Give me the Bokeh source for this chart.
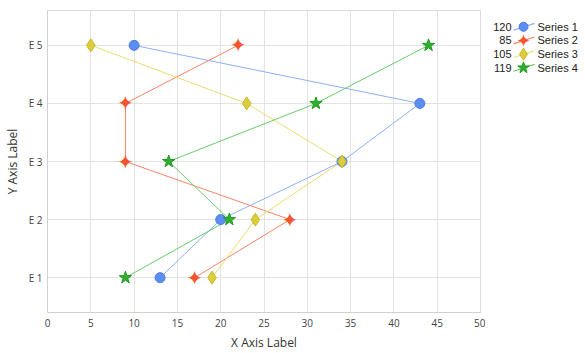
from bokeh.plotting import figure
from bokeh.models import Range1d, FixedTicker, ColumnDataSource
from bokeh.layouts import row
from bokeh.core.properties import value
from bokeh.embed import file_html
from bokeh.resources import INLINE

# ---- data ----
y_labels = ["E 1", "E 2", "E 3", "E 4", "E 5"]
y_pos = [1, 2, 3, 4, 5]
series_names = ["Series 1", "Series 2", "Series 3", "Series 4"]
s1_x = [13, 20, 34, 43, 10]
s2_x = [17, 28, 9, 9, 22]
s3_x = [19, 24, 34, 23, 5]
s4_x = [9, 21, 14, 31, 44]
x_ticks = [0, 5, 10, 15, 20, 25, 30, 35, 40, 45, 50]

marker_colors = ["#5b8ef0", "#f5542c", "#dccd3a", "#2eb02e"]
line_colors = ["#8db0f6", "#fa8466", "#e9dd72", "#6acb6a"]
edge_colors = ["#4a7de0", "#e04520", "#c8b82a", "#209a20"]
all_x = [s1_x, s2_x, s3_x, s4_x]

FONT = "Open Sans"

p = figure(width=485, height=353, output_backend="svg", toolbar_location=None,
           x_range=Range1d(0, 50), y_range=Range1d(0.4, 5.6),
           min_border_left=47, min_border_right=5, min_border_top=10, min_border_bottom=41)
p.outline_line_color = "#dcdcdc"
p.background_fill_color = "white"
p.border_fill_color = "white"

p.xaxis.ticker = FixedTicker(ticks=x_ticks)
p.yaxis.ticker = FixedTicker(ticks=y_pos)
p.yaxis.major_label_overrides = {v: l for v, l in zip(y_pos, y_labels)}
for ax in (p.xaxis, p.yaxis):
    ax.major_tick_line_color = None
    ax.minor_tick_line_color = None
    ax.major_tick_out = 0
    ax.major_tick_in = 0
    ax.minor_tick_out = 0
    ax.minor_tick_in = 0
    ax.axis_line_color = "#d0d0d0"
    ax.major_label_text_font = FONT
    ax.major_label_text_font_size = "10px"
    ax.major_label_text_color = "#444444"
    ax.axis_label_text_font = FONT
    ax.axis_label_text_font_size = "12px"
    ax.axis_label_text_font_style = "normal"
    ax.axis_label_text_color = "#333333"
p.xaxis.axis_label = "X Axis Label"
p.yaxis.axis_label = "Y Axis Label"
p.xaxis.major_label_standoff = 6
p.yaxis.major_label_standoff = 5
p.xaxis.axis_label_standoff = 4
p.yaxis.axis_label_standoff = 5
p.xgrid.ticker = FixedTicker(ticks=x_ticks)
p.ygrid.ticker = FixedTicker(ticks=y_pos)
p.grid.grid_line_color = "#e3e3e3"

for i, xs in enumerate(all_x):
    src = ColumnDataSource(dict(x=xs, y=y_pos))
    p.line("x", "y", source=src, line_color=line_colors[i], line_width=1)

# markers
p.scatter(s1_x, y_pos, marker="circle", size=10, fill_color=marker_colors[0], line_color=edge_colors[0])
p.text(s2_x, y_pos, text=["\u2726"] * 5, text_color=marker_colors[1], text_font=value("DejaVu Sans"),
       text_font_size="20px", text_align="center", text_baseline="middle")
p.scatter(s3_x, y_pos, marker="diamond", size=13, fill_color=marker_colors[2], line_color=edge_colors[2])
p.scatter(s4_x, y_pos, marker="star", size=13, fill_color=marker_colors[3], line_color=edge_colors[3])

# ---- legend figure ----
lg = figure(width=100, height=353, output_backend="svg", toolbar_location=None,
            x_range=Range1d(485, 585), y_range=Range1d(353, 0),
            min_border=0, x_axis_type=None, y_axis_type=None)
lg.outline_line_color = None
lg.grid.visible = False

totals = [sum(xs) for xs in all_x]
rows_y = [19, 35, 51, 67]
lg.text([511] * 4, rows_y, text=[str(t) for t in totals], text_align="right", text_baseline="middle",
        text_font=value("Liberation Sans"), text_font_size="11px", text_color="#222222")
lg.text([537] * 4, rows_y, text=series_names, text_align="left", text_baseline="middle",
        text_font=value("Liberation Sans"), text_font_size="11px", text_color="#222222")
lg.segment([513] * 4, [y + 4 for y in rows_y], [534] * 4, [y - 4 for y in rows_y],
           line_color=line_colors, line_width=1.2)
lg.scatter([523], [rows_y[0]], marker="circle", size=9, fill_color=marker_colors[0], line_color=edge_colors[0])
lg.text([523], [rows_y[1]], text=["\u2726"], text_color=marker_colors[1], text_font=value("DejaVu Sans"),
        text_font_size="18px", text_align="center", text_baseline="middle")
lg.scatter([523], [rows_y[2]], marker="diamond", size=12, fill_color=marker_colors[2], line_color=edge_colors[2])
lg.scatter([523], [rows_y[3]], marker="star", size=12, fill_color=marker_colors[3], line_color=edge_colors[3])

layout = row(p, lg, spacing=0)
open("out.html", "w").write(file_html(layout, INLINE))
